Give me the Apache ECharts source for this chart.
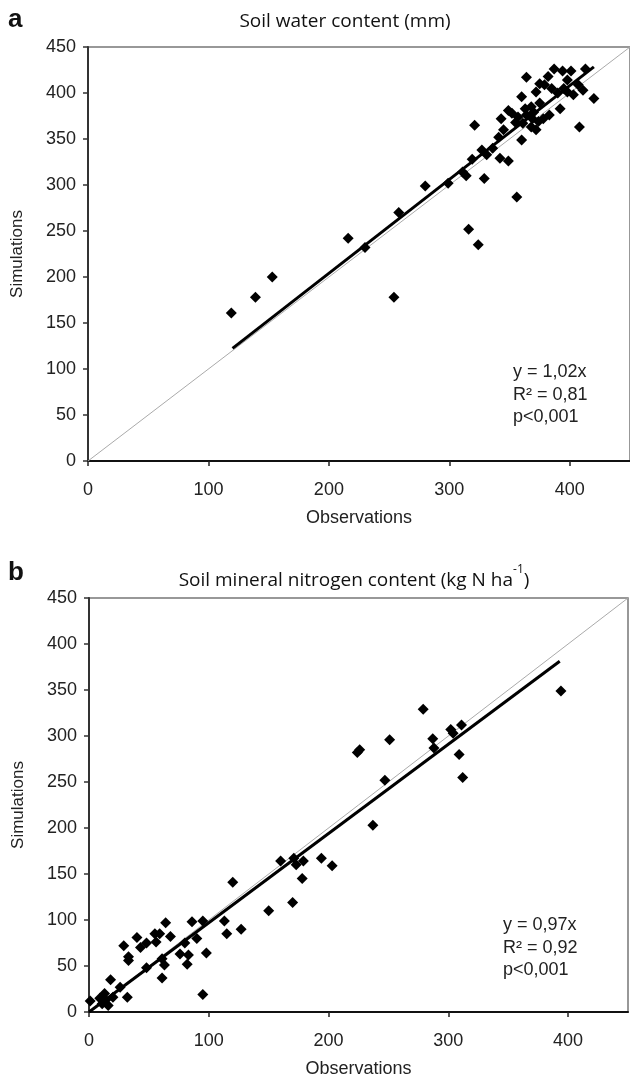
<!DOCTYPE html>
<html>
<head>
<meta charset="utf-8">
<script src="https://cdn.jsdelivr.net/npm/echarts@6/dist/echarts.min.js"></script>
<style>
html,body{margin:0;padding:0;background:#fff;}
#chart{width:630px;height:1082px;}
</style>
</head>
<body>
<div id="chart"></div>
<script>
// ---- Panel a: soil water content (mm)
const waterObs = [119,139,153,216,230,254,258,280,299,311,314,316,321,319,324,327,331,329,342,349,341,345,343,349,352,357,356,360,360,361,364,363,364,368,368,369,372,372,374,375,375,379,382,383,385,387,392,394,398,398,401,403,407,408,411,413,420,370,378,355,390,395,336];
const waterSim = [161,178,200,242,232,178,270,299,302,314,310,252,365,328,235,338,333,307,329,326,352,360,372,381,378,374,287,349,396,367,376,383,417,385,363,372,360,401,369,389,410,409,418,376,405,426,383,424,414,401,424,398,409,363,403,426,394,379,372,368,400,405,340];
const waterFitRange = [120, 420];
const waterSlope = 1.02;

// ---- Panel b: soil mineral nitrogen content (kg N ha-1)
const nitroObs = [1,9,11,13,14,16,20,18,26,32,29,33,33,43,48,48,40,56,55,59,61,63,61,64,68,76,80,82,83,86,90,95,98,95,113,115,120,127,150,160,171,173,179,178,170,194,203,224,226,237,247,251,279,287,288,302,304,311,309,312,394];
const nitroSim = [12,15,9,20,13,7,16,35,27,16,72,60,56,70,75,48,81,76,85,85,58,51,37,97,82,63,75,52,62,98,80,99,64,19,99,85,141,90,110,164,167,160,164,145,119,167,159,282,285,203,252,296,329,297,287,307,303,312,280,255,349];
const nitroFitRange = [0, 393];
const nitroSlope = 0.97;

const axisMax = 450;
const xTickValues = [0,100,200,300,400];
const oneToOne = [0, 450];

const zip = (a, b) => a.map((v, i) => [v, b[i]]);
const fit = (r, s) => r.map(x => [x, +(x * s).toFixed(2)]);

const FONT = 'Liberation Sans';

function xAxisCfg(idx) {
  return {
    gridIndex: idx, type: 'value', min: 0, max: axisMax, interval: 100,
    axisLine: {show: true, lineStyle: {color: '#111', width: 2}},
    axisTick: {show: true, inside: false, length: 5, lineStyle: {color: '#222', width: 1.5}, customValues: xTickValues},
    axisLabel: {color: '#222', fontSize: 18, fontFamily: FONT, margin: 20, customValues: xTickValues},
    splitLine: {show: false},
    name: 'Observations', nameLocation: 'middle', nameGap: 48,
    nameTextStyle: {color: '#222', fontSize: 18, fontFamily: FONT}
  };
}
function yAxisCfg(idx) {
  return {
    gridIndex: idx, type: 'value', min: 0, max: axisMax, interval: 50,
    axisLine: {show: true, lineStyle: {color: '#333', width: 2}},
    axisTick: {show: true, inside: false, length: 5, lineStyle: {color: '#333', width: 1.5}},
    axisLabel: {color: '#222', fontSize: 18, fontFamily: FONT, margin: 12},
    splitLine: {show: false},
    name: 'Simulations', nameLocation: 'middle', nameGap: 62,
    nameTextStyle: {color: '#222', fontSize: 17, fontFamily: FONT}
  };
}
function seriesFor(idx, pts, fitPts) {
  return [
    {type: 'line', xAxisIndex: idx, yAxisIndex: idx, data: oneToOne.map(v => [v, v]),
     showSymbol: false, symbol: 'none', lineStyle: {color: '#aaa', width: 1}, z: 1, silent: true},
    {type: 'scatter', xAxisIndex: idx, yAxisIndex: idx, data: pts, symbol: 'diamond', symbolSize: 11,
     itemStyle: {color: '#000', opacity: 1}, z: 2},
    {type: 'line', xAxisIndex: idx, yAxisIndex: idx, data: fitPts,
     showSymbol: false, symbol: 'none', lineStyle: {color: '#000', width: 3}, z: 3, silent: true}
  ];
}

const chart = echarts.init(document.getElementById('chart'), null, {renderer: 'canvas'});
chart.setOption({
  animation: false,
  backgroundColor: '#fff',
  grid: [
    {left: 88, top: 47, width: 542, height: 414, show: true, borderColor: '#777', borderWidth: 1.5, backgroundColor: 'transparent'},
    {left: 89, top: 598, width: 539, height: 414, show: true, borderColor: '#777', borderWidth: 1.5, backgroundColor: 'transparent'}
  ],
  xAxis: [xAxisCfg(0), xAxisCfg(1)],
  yAxis: [yAxisCfg(0), yAxisCfg(1)],
  series: [
    ...seriesFor(0, zip(waterObs, waterSim), fit(waterFitRange, waterSlope)),
    ...seriesFor(1, zip(nitroObs, nitroSim), fit(nitroFitRange, nitroSlope))
  ],
  graphic: [
    {type: 'text', x: 8, y: 20, style: {text: 'a', fontSize: 26, fontWeight: 'bold', fontFamily: FONT, fill: '#111', align: 'left', verticalAlign: 'middle'}},
    {type: 'text', x: 345, y: 22, style: {text: 'Soil water content (mm)', fontSize: 19, fontFamily: 'Open Sans', fill: '#111', align: 'center', verticalAlign: 'middle'}},
    {type: 'text', x: 513, y: 361, style: {text: 'y = 1,02x\nR² = 0,81\np<0,001', fontSize: 18, lineHeight: 22.5, fontFamily: FONT, fill: '#222', align: 'left', verticalAlign: 'top'}},
    {type: 'text', x: 8, y: 573, style: {text: 'b', fontSize: 26, fontWeight: 'bold', fontFamily: FONT, fill: '#111', align: 'left', verticalAlign: 'middle'}},
    {type: 'text', x: 354, y: 577, style: {
      text: '{n|Soil mineral nitrogen content (kg N ha}{s|-1}{n|)}',
      align: 'center', verticalAlign: 'middle',
      rich: {
        n: {fontSize: 19, fontFamily: 'Open Sans', fill: '#111', lineHeight: 26, verticalAlign: 'bottom'},
        s: {fontSize: 12, fontFamily: 'Open Sans', fill: '#111', lineHeight: 26, verticalAlign: 'top', padding: [0, 0, 0, 0]}
      }
    }},
    {type: 'text', x: 503, y: 914, style: {text: 'y = 0,97x\nR² = 0,92\np<0,001', fontSize: 18, lineHeight: 22.5, fontFamily: FONT, fill: '#222', align: 'left', verticalAlign: 'top'}}
  ]
});
</script>
</body>
</html>
